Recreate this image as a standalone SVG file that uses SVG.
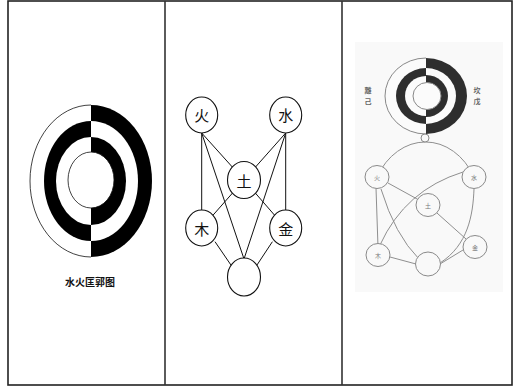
<svg xmlns="http://www.w3.org/2000/svg" width="518" height="386" viewBox="0 0 518 386">
<style>
.frame{fill:none;stroke:#222;stroke-width:1.6}
.col{stroke:#333;stroke-width:1.6}
.mnode ellipse{fill:#fff;stroke:#111;stroke-width:1.1}
.mlab{font-family:"Noto Sans CJK SC",sans-serif;font-size:15px;fill:#111;text-anchor:middle;dominant-baseline:central}
.medge line{stroke:#111;stroke-width:1}
.rnode ellipse{fill:#f9f9f9;stroke:#8a8a8a;stroke-width:1}
.rlab{font-family:"Noto Sans CJK SC",sans-serif;font-size:6px;fill:#777;text-anchor:middle;dominant-baseline:central}
.redge path,.redge line{fill:none;stroke:#8f8f8f;stroke-width:1}
.side{font-family:"Noto Sans CJK SC",sans-serif;font-size:7px;font-weight:bold;fill:#666;text-anchor:middle}
</style>
<defs>
<clipPath id="lh"><rect x="0" y="0" width="91" height="386"/></clipPath>
<clipPath id="rh"><rect x="91" y="0" width="100" height="386"/></clipPath>
<clipPath id="lh2"><rect x="300" y="0" width="126" height="386"/></clipPath>
<clipPath id="rh2"><rect x="426" y="0" width="100" height="386"/></clipPath>
</defs>
<rect width="518" height="386" fill="#fff"/>
<!-- frame -->
<rect class="frame" x="8" y="1" width="504" height="384"/>
<line class="col" x1="165" y1="1" x2="165" y2="385"/>
<line class="col" x1="342" y1="1" x2="342" y2="385"/>

<!-- left panel: 水火匡郭图 -->
<g id="kuangguo">
<g clip-path="url(#lh)">
<ellipse cx="91" cy="181" rx="61" ry="76" fill="#fff" stroke="#111" stroke-width="0.8"/>
<ellipse cx="91" cy="181" rx="47" ry="60" fill="#000"/>
<ellipse cx="91" cy="181" rx="35" ry="44" fill="#fff"/>
</g>
<g clip-path="url(#rh)">
<ellipse cx="91" cy="181" rx="61" ry="76" fill="#000"/>
<ellipse cx="91" cy="181" rx="47" ry="60" fill="#fff"/>
<ellipse cx="91" cy="181" rx="35" ry="44" fill="#000"/>
</g>
<ellipse cx="91" cy="180" rx="23" ry="28" fill="#fff" stroke="#111" stroke-width="0.8"/>
</g>
<text id="caption" x="90" y="286" font-family="'Noto Sans CJK SC',sans-serif" font-size="10" font-weight="bold" text-anchor="middle" fill="#111">水火匡郭图</text>

<!-- middle panel -->
<g id="mid-edges" class="medge">
<line x1="201.7" y1="133" x2="201.7" y2="212"/>
<line x1="285.7" y1="133" x2="285.7" y2="212"/>
<line x1="201.7" y1="133" x2="244" y2="180"/>
<line x1="285.7" y1="133" x2="244" y2="180"/>
<line x1="201.7" y1="133" x2="244" y2="259"/>
<line x1="285.7" y1="133" x2="244" y2="259"/>
<line x1="244" y1="180" x2="201.7" y2="228"/>
<line x1="244" y1="180" x2="285.7" y2="228"/>
<line x1="215" y1="241.7" x2="233" y2="268"/>
<line x1="272.4" y1="241.7" x2="255" y2="268"/>
</g>
<g id="m-huo" class="mnode"><ellipse cx="201.7" cy="115" rx="16" ry="18"/><text class="mlab" x="201.7" y="114">火</text></g>
<g id="m-shui" class="mnode"><ellipse cx="285.7" cy="115" rx="16" ry="18"/><text class="mlab" x="285.7" y="114">水</text></g>
<g id="m-tu" class="mnode"><ellipse cx="244" cy="180" rx="16.5" ry="18.5"/><text class="mlab" x="244" y="180">土</text></g>
<g id="m-mu" class="mnode"><ellipse cx="201.7" cy="228" rx="16" ry="18"/><text class="mlab" x="201.7" y="228">木</text></g>
<g id="m-jin" class="mnode"><ellipse cx="285.7" cy="228" rx="16" ry="18"/><text class="mlab" x="285.7" y="228">金</text></g>
<g id="m-center" class="mnode"><ellipse cx="244" cy="277" rx="16.5" ry="19"/></g>

<!-- right panel -->
<rect x="355" y="42" width="148" height="250" fill="#f9f9f9"/>
<g id="r-kuangguo">
<g clip-path="url(#lh2)">
<ellipse cx="426" cy="96" rx="41" ry="38" fill="#fbfbfb" stroke="#888" stroke-width="1"/>
<ellipse cx="426" cy="96" rx="30" ry="28" fill="#2e2e2e"/>
<ellipse cx="426" cy="96" rx="21" ry="20" fill="#fbfbfb"/>
</g>
<g clip-path="url(#rh2)">
<ellipse cx="426" cy="96" rx="41" ry="38" fill="#2e2e2e"/>
<ellipse cx="426" cy="96" rx="30" ry="28" fill="#fbfbfb"/>
<ellipse cx="426" cy="96" rx="22" ry="21" fill="#2e2e2e"/>
</g>
<ellipse cx="427" cy="96" rx="14" ry="13.5" fill="#fbfbfb" stroke="#888" stroke-width="1"/>
</g>
<text class="side" x="368" y="93">離</text>
<text class="side" x="368" y="104">己</text>
<text class="side" x="477" y="93">坎</text>
<text class="side" x="477" y="104">戊</text>

<g id="r-edges" class="redge">
<path d="M377,177 A56,70 0 0 1 474,177"/>
<path d="M474,189 C473,215 468,245 440,263"/>
<path d="M381,189 Q395,235 419,259"/>
<line x1="376" y1="188" x2="378" y2="247"/>
<line x1="388" y1="183" x2="428" y2="205"/>
<path d="M380,245 Q405,190 463,172"/>
<line x1="428" y1="205" x2="475" y2="247"/>
<line x1="390" y1="257" x2="416" y2="264"/>
<line x1="440" y1="264" x2="463" y2="250"/>
</g>
<g id="r-top" class="rnode"><ellipse cx="425" cy="138" rx="4" ry="4"/></g>
<g id="r-huo" class="rnode"><ellipse cx="377" cy="177" rx="12" ry="11.5"/><text class="rlab" x="377" y="177">火</text></g>
<g id="r-shui" class="rnode"><ellipse cx="474" cy="177" rx="12" ry="11.5"/><text class="rlab" x="474" y="177">水</text></g>
<g id="r-tu" class="rnode"><ellipse cx="428" cy="205" rx="12" ry="11.5"/><text class="rlab" x="428" y="205">土</text></g>
<g id="r-mu" class="rnode"><ellipse cx="378" cy="255" rx="12" ry="11.5"/><text class="rlab" x="378" y="255">木</text></g>
<g id="r-jin" class="rnode"><ellipse cx="475" cy="247" rx="12" ry="11.5"/><text class="rlab" x="475" y="247">金</text></g>
<g id="r-center" class="rnode"><ellipse cx="428" cy="264" rx="12.5" ry="12"/></g>
</svg>
